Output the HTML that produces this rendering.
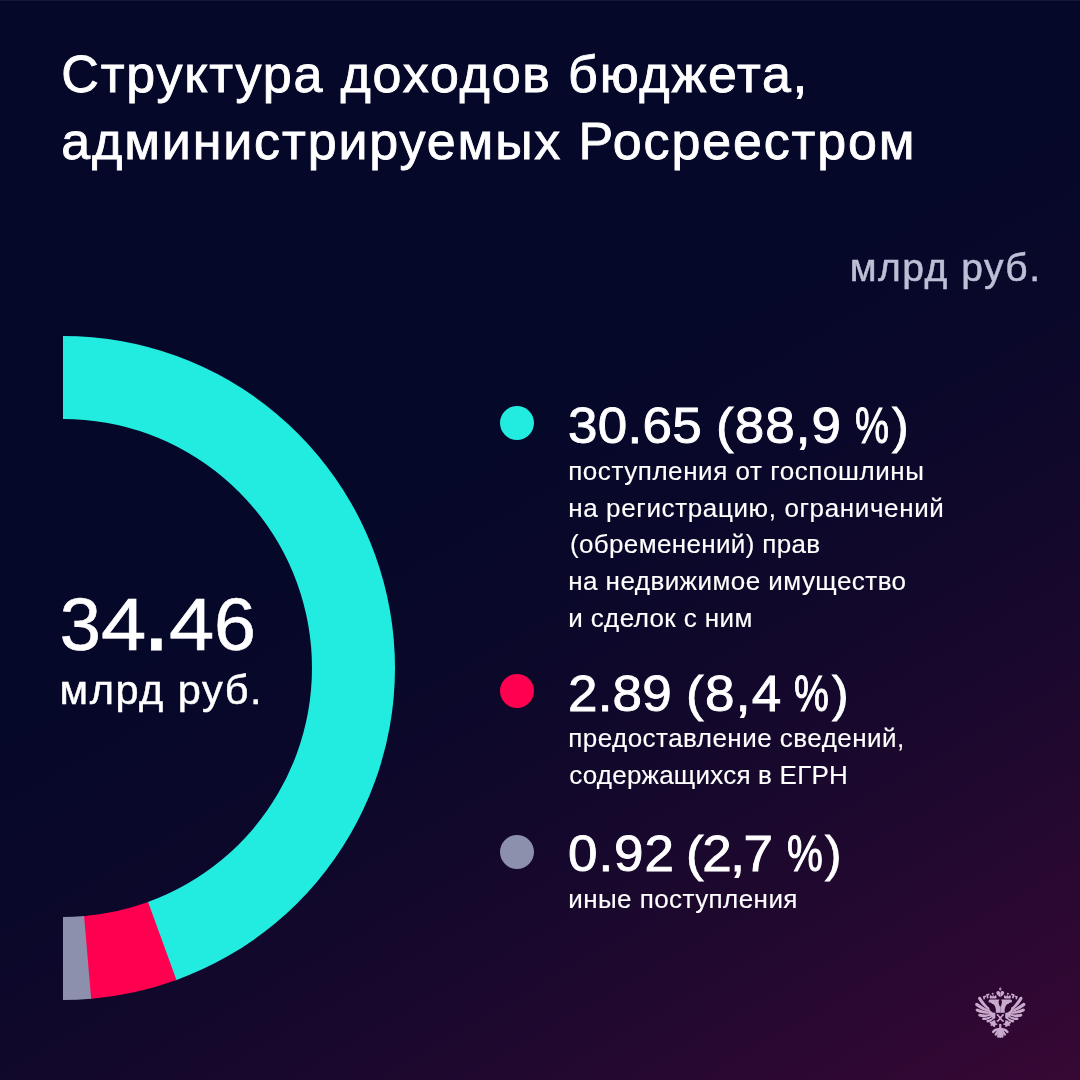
<!DOCTYPE html>
<html lang="ru">
<head>
<meta charset="utf-8">
<title>Структура доходов бюджета, администрируемых Росреестром</title>
<style>
html,body{margin:0;padding:0}
body{width:1080px;height:1080px;overflow:hidden;position:relative;font-family:"Liberation Sans", sans-serif;background:#050829}
.bg{position:absolute;left:0;top:0;width:1080px;height:1080px;
background:linear-gradient(150deg,#050829 0%,#050829 40.7%,#0a082a 54.2%,#14082c 67.8%,#22082f 81.4%,#370834 100%)}
.t{position:absolute;left:0;white-space:nowrap;margin:0;height:1em;width:1080px}
.f{position:absolute;top:0;display:block;transform-origin:0 50%}
.dot{position:absolute;width:34.2px;height:34.2px;border-radius:50%}
svg{position:absolute;left:0;top:0}
#t1{top:48.28px;font-size:52px;line-height:52px;color:#fff;-webkit-text-stroke:0.85px #fff}
#t1_0{left:61.30px;letter-spacing:1.800px}
#t2{top:115.08px;font-size:52px;line-height:52px;color:#fff;-webkit-text-stroke:0.85px #fff}
#t2_0{left:61.20px;letter-spacing:1.852px}
#u1{top:248.49px;font-size:39px;line-height:39px;color:#bcc0d6;-webkit-text-stroke:0.5px #bcc0d6}
#u1_0{left:849.80px;letter-spacing:1.488px}
#c1{top:587.66px;font-size:74px;line-height:74px;color:#fff;-webkit-text-stroke:0.6px #fff}
#c1_0{left:59.70px;letter-spacing:0.000px}
#c1_1{left:101.10px;letter-spacing:0.000px;transform:scaleX(1.1000)}
#c1_2{left:142.00px;letter-spacing:0.000px;transform:scale(1.3914);transform-origin:0 84.65%}
#c1_3{left:169.10px;letter-spacing:0.000px;transform:scaleX(1.1000)}
#c1_4{left:213.80px;letter-spacing:0.000px;transform:scaleX(1.0175)}
#c2{top:668.87px;font-size:41.5px;line-height:41.5px;color:#fff;-webkit-text-stroke:0.5px #fff}
#c2_0{left:59.60px;letter-spacing:1.525px}
#h1{top:400.70px;font-size:49.5px;line-height:49.5px;color:#fff;-webkit-text-stroke:0.85px #fff}
#h1_0{left:568.00px;letter-spacing:0.250px;transform:scaleX(1.0700)}
#h1_1{left:715.90px;letter-spacing:1.000px;transform:scaleX(1.0700)}
#h1_2{left:855.00px;letter-spacing:0.000px;transform:scaleX(0.7738);-webkit-text-stroke-width:1px}
#h1_3{left:891.60px;letter-spacing:0.000px;transform:scaleX(1.0143)}
#s11{top:457.99px;font-size:26px;line-height:26px;color:#fff;-webkit-text-stroke:0.15px #fff}
#s11_0{left:568.20px;letter-spacing:0.562px}
#s12{top:494.79px;font-size:26px;line-height:26px;color:#fff;-webkit-text-stroke:0.15px #fff}
#s12_0{left:568.20px;letter-spacing:0.627px}
#s13{top:531.49px;font-size:26px;line-height:26px;color:#fff;-webkit-text-stroke:0.15px #fff}
#s13_0{left:570.00px;letter-spacing:0.347px}
#s14{top:568.29px;font-size:26px;line-height:26px;color:#fff;-webkit-text-stroke:0.15px #fff}
#s14_0{left:568.20px;letter-spacing:0.455px}
#s15{top:604.99px;font-size:26px;line-height:26px;color:#fff;-webkit-text-stroke:0.15px #fff}
#s15_0{left:568.20px;letter-spacing:0.392px}
#h2{top:668.80px;font-size:49.5px;line-height:49.5px;color:#fff;-webkit-text-stroke:0.85px #fff}
#h2_0{left:568.00px;letter-spacing:0.167px;transform:scaleX(1.0700)}
#h2_1{left:685.90px;letter-spacing:1.200px;transform:scaleX(1.0700)}
#h2_2{left:794.00px;letter-spacing:0.000px;transform:scaleX(0.7929);-webkit-text-stroke-width:1px}
#h2_3{left:832.10px;letter-spacing:0.000px;transform:scaleX(1.0051)}
#s21{top:725.49px;font-size:26px;line-height:26px;color:#fff;-webkit-text-stroke:0.15px #fff}
#s21_0{left:568.20px;letter-spacing:0.473px}
#s22{top:762.29px;font-size:26px;line-height:26px;color:#fff;-webkit-text-stroke:0.15px #fff}
#s22_0{left:569.20px;letter-spacing:0.222px}
#h3{top:829.40px;font-size:49.5px;line-height:49.5px;color:#fff;-webkit-text-stroke:0.85px #fff}
#h3_0{left:568.00px;letter-spacing:0.867px;transform:scaleX(1.0700)}
#h3_1{left:685.90px;letter-spacing:-1.367px;transform:scaleX(1.0700)}
#h3_2{left:786.90px;letter-spacing:0.000px;transform:scaleX(0.8146);-webkit-text-stroke-width:1px}
#h3_3{left:825.00px;letter-spacing:0.000px}
#s31{top:886.19px;font-size:26px;line-height:26px;color:#fff;-webkit-text-stroke:0.15px #fff}
#s31_0{left:568.20px;letter-spacing:0.440px}
</style>
</head>
<body>
<div class="bg"></div>
<div style="position:absolute;left:0;top:0;width:1080px;height:1px;background:#14173b"></div>
<svg width="1080" height="1080" viewBox="0 0 1080 1080"><path fill="#22ecdf" d="M63.00 336.00A332 332 0 0 1 175.35 980.41L147.26 902.31A249 249 0 0 0 63.00 419.00Z"/><path fill="#ff0050" d="M176.44 980.02A332 332 0 0 1 89.97 998.90L83.23 916.18A249 249 0 0 0 148.08 902.01Z"/><path fill="#8c90ac" d="M91.13 998.81A332 332 0 0 1 63.00 1000.00L63.00 917.00A249 249 0 0 0 84.10 916.10Z"/></svg>
<div class="dot" style="left:500.2px;top:406px;background:#22ecdf"></div>
<div class="dot" style="left:500.2px;top:673.9px;background:#ff0050"></div>
<div class="dot" style="left:500.2px;top:835.2px;background:#8c90ac"></div>
<div class="t" id="t1"><span class="f" id="t1_0">Структура доходов бюджета,</span></div>
<div class="t" id="t2"><span class="f" id="t2_0">администрируемых Росреестром</span></div>
<div class="t" id="u1"><span class="f" id="u1_0">млрд руб.</span></div>
<div class="t" id="c1"><span class="f" id="c1_0">3</span><span class="f" id="c1_1">4</span><span class="f" id="c1_2">.</span><span class="f" id="c1_3">4</span><span class="f" id="c1_4">6</span></div>
<div class="t" id="c2"><span class="f" id="c2_0">млрд руб.</span></div>
<div class="t" id="h1"><span class="f" id="h1_0">30.65</span> <span class="f" id="h1_1">(88,9</span> <span class="f" id="h1_2">%</span><span class="f" id="h1_3">)</span></div>
<div class="t" id="s11"><span class="f" id="s11_0">поступления от госпошлины</span></div>
<div class="t" id="s12"><span class="f" id="s12_0">на регистрацию, ограничений</span></div>
<div class="t" id="s13"><span class="f" id="s13_0">(обременений) прав</span></div>
<div class="t" id="s14"><span class="f" id="s14_0">на недвижимое имущество</span></div>
<div class="t" id="s15"><span class="f" id="s15_0">и сделок с ним</span></div>
<div class="t" id="h2"><span class="f" id="h2_0">2.89</span> <span class="f" id="h2_1">(8,4</span> <span class="f" id="h2_2">%</span><span class="f" id="h2_3">)</span></div>
<div class="t" id="s21"><span class="f" id="s21_0">предоставление сведений,</span></div>
<div class="t" id="s22"><span class="f" id="s22_0">содержащихся в ЕГРН</span></div>
<div class="t" id="h3"><span class="f" id="h3_0">0.92</span> <span class="f" id="h3_1">(2,7</span> <span class="f" id="h3_2">%</span><span class="f" id="h3_3">)</span></div>
<div class="t" id="s31"><span class="f" id="s31_0">иные поступления</span></div>
<svg width="1080" height="1080" viewBox="0 0 1080 1080" style="position:absolute;left:0;top:0">
<g transform="translate(970,982) scale(0.055556)" fill="#c8aacc">
<g>
<path d="M353 472L338 459L323 444L309 430L295 415L282 400L270 384L258 369L246 352L235 336L224 320L213 304L202 287L191 271L157 266L157 266L143 298L153 317L164 335L176 353L188 371L201 387L216 403L230 419L245 434L261 449L277 463L293 477L310 491L327 504Z"/>
<path d="M339 502L321 494L303 485L286 476L269 467L253 457L237 447L221 437L205 426L190 416L174 406L159 395L144 384L128 374L96 383L96 383L94 417L109 430L125 442L141 454L158 465L175 475L193 484L211 493L230 502L248 510L267 517L286 525L306 531L325 538Z"/>
<path d="M339 538L323 535L306 532L289 528L273 524L256 520L240 515L224 510L208 504L192 498L176 493L160 487L144 481L128 476L101 492L101 492L107 523L123 532L140 539L158 546L175 552L193 557L210 560L228 564L246 567L264 569L282 571L300 572L318 573L337 574Z"/>
<path d="M353 576L338 578L324 580L309 582L294 583L280 583L266 583L251 582L237 580L223 579L209 577L196 575L182 572L167 570L146 589L146 589L155 616L170 622L186 626L202 628L218 630L234 631L251 631L267 630L283 628L299 625L315 622L331 618L347 614L363 608Z"/>
<path d="M381 610L368 616L356 622L344 626L331 630L320 633L308 635L297 637L285 638L274 639L264 639L253 639L242 639L231 640L216 658L216 658L225 680L238 685L251 685L265 685L279 685L292 683L305 679L319 675L332 670L345 664L357 658L370 650L383 643L395 634Z"/>
<path d="M416 639L406 646L397 653L387 659L378 664L369 668L360 672L351 675L343 678L334 680L326 683L318 685L310 686L302 690L294 708L294 708L305 725L316 727L326 726L337 723L347 720L358 716L368 711L377 705L387 698L396 691L405 683L415 675L423 666L432 657Z"/>
 <path d="M337 452C350 520 396 556 456 556L456 650L436 668C380 640 326 570 318 480Z"/>
 <path d="M545 452L545 552L462 552C472 520 468 470 442 425C426 398 412 390 398 398C396 380 378 370 336 364C330 342 338 322 354 316L531 316L516 345C512 380 525 420 545 452Z"/>
 <circle cx="408" cy="210" r="18"/>
 <path d="M360 296C348 270 354 244 372 236C384 248 394 258 401 263C406 250 412 238 418 228C426 240 432 254 437 263C447 256 457 246 465 236C482 250 480 276 472 296Z"/>
 <path d="M230 256L286 244L291 270L264 275L274 308L246 314Z"/>
 <path d="M288 222L346 208L352 236L324 242L336 290L306 296Z"/>
 <path d="M543 274C518 252 474 226 474 194C474 166 503 152 526 166C536 172 541 184 543 198Z"/>
 <path d="M545 90L521 126L545 164Z"/>
 <path d="M452 690C432 688 410 698 396 714C378 708 358 718 348 736C364 740 374 748 378 758C370 768 368 782 376 796C392 788 404 788 414 794C420 808 436 814 452 808C448 794 454 782 464 774C478 772 492 766 502 756L462 744Z"/>
 <g fill="none" stroke="#c8aacc" stroke-width="44" stroke-linecap="round">
  <path d="M522 850C482 848 440 868 416 898"/>
  <path d="M530 870C502 885 476 915 464 946"/>
  <path d="M540 880C526 910 512 945 508 980"/>
 </g>
 <g fill="none" stroke="#c8aacc" stroke-width="28">
  <path d="M548 650L502 600"/>
  <path d="M548 650L502 702"/>
 </g>
 <circle cx="496" cy="594" r="16"/>
 <rect x="480" y="688" width="28" height="28"/>
</g>
<g transform="translate(1090,0) scale(-1,1)">
<path d="M353 472L338 459L323 444L309 430L295 415L282 400L270 384L258 369L246 352L235 336L224 320L213 304L202 287L191 271L157 266L157 266L143 298L153 317L164 335L176 353L188 371L201 387L216 403L230 419L245 434L261 449L277 463L293 477L310 491L327 504Z"/>
<path d="M339 502L321 494L303 485L286 476L269 467L253 457L237 447L221 437L205 426L190 416L174 406L159 395L144 384L128 374L96 383L96 383L94 417L109 430L125 442L141 454L158 465L175 475L193 484L211 493L230 502L248 510L267 517L286 525L306 531L325 538Z"/>
<path d="M339 538L323 535L306 532L289 528L273 524L256 520L240 515L224 510L208 504L192 498L176 493L160 487L144 481L128 476L101 492L101 492L107 523L123 532L140 539L158 546L175 552L193 557L210 560L228 564L246 567L264 569L282 571L300 572L318 573L337 574Z"/>
<path d="M353 576L338 578L324 580L309 582L294 583L280 583L266 583L251 582L237 580L223 579L209 577L196 575L182 572L167 570L146 589L146 589L155 616L170 622L186 626L202 628L218 630L234 631L251 631L267 630L283 628L299 625L315 622L331 618L347 614L363 608Z"/>
<path d="M381 610L368 616L356 622L344 626L331 630L320 633L308 635L297 637L285 638L274 639L264 639L253 639L242 639L231 640L216 658L216 658L225 680L238 685L251 685L265 685L279 685L292 683L305 679L319 675L332 670L345 664L357 658L370 650L383 643L395 634Z"/>
<path d="M416 639L406 646L397 653L387 659L378 664L369 668L360 672L351 675L343 678L334 680L326 683L318 685L310 686L302 690L294 708L294 708L305 725L316 727L326 726L337 723L347 720L358 716L368 711L377 705L387 698L396 691L405 683L415 675L423 666L432 657Z"/>
 <path d="M337 452C350 520 396 556 456 556L456 650L436 668C380 640 326 570 318 480Z"/>
 <path d="M545 452L545 552L462 552C472 520 468 470 442 425C426 398 412 390 398 398C396 380 378 370 336 364C330 342 338 322 354 316L531 316L516 345C512 380 525 420 545 452Z"/>
 <circle cx="408" cy="210" r="18"/>
 <path d="M360 296C348 270 354 244 372 236C384 248 394 258 401 263C406 250 412 238 418 228C426 240 432 254 437 263C447 256 457 246 465 236C482 250 480 276 472 296Z"/>
 <path d="M230 256L286 244L291 270L264 275L274 308L246 314Z"/>
 <path d="M288 222L346 208L352 236L324 242L336 290L306 296Z"/>
 <path d="M543 274C518 252 474 226 474 194C474 166 503 152 526 166C536 172 541 184 543 198Z"/>
 <path d="M545 90L521 126L545 164Z"/>
 <path d="M452 690C432 688 410 698 396 714C378 708 358 718 348 736C364 740 374 748 378 758C370 768 368 782 376 796C392 788 404 788 414 794C420 808 436 814 452 808C448 794 454 782 464 774C478 772 492 766 502 756L462 744Z"/>
 <g fill="none" stroke="#c8aacc" stroke-width="44" stroke-linecap="round">
  <path d="M522 850C482 848 440 868 416 898"/>
  <path d="M530 870C502 885 476 915 464 946"/>
  <path d="M540 880C526 910 512 945 508 980"/>
 </g>
 <g fill="none" stroke="#c8aacc" stroke-width="28">
  <path d="M548 650L502 600"/>
  <path d="M548 650L502 702"/>
 </g>
 <circle cx="496" cy="594" r="16"/>
 <rect x="480" y="688" width="28" height="28"/>
</g>
<path d="M526 756L564 756L568 880L566 1000C558 1012 532 1012 524 1000L522 880Z"/>
</g>
</svg>
</body>
</html>
